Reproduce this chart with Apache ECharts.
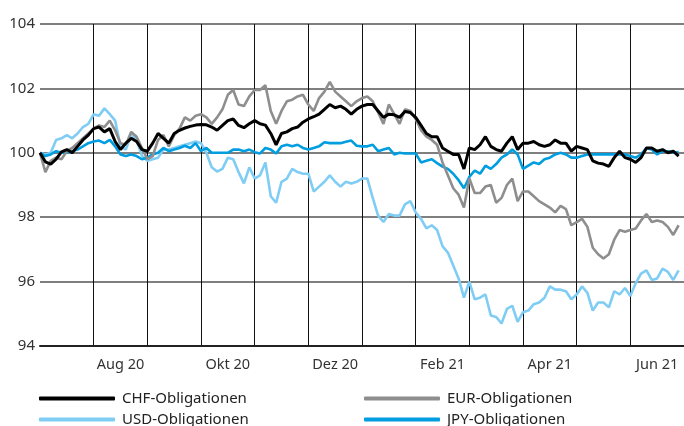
<!DOCTYPE html>
<html lang="de">
<head>
    <meta charset="UTF-8">
    <title>Obligationen</title>
    <script type="text/javascript" src="https://cdn.jsdelivr.net/npm/echarts@6/dist/echarts.min.js"></script>
    <style type="text/css">
        html, body { margin: 0; padding: 0; background: #fff; }
        #chart { width: 684px; height: 426px; }
    </style>
</head>
<body>
<div id="chart"></div>
<script type="text/javascript">
    // Monate (Juli 2020 bis Juni 2021), beschriftet wird jeder zweite
    var months = ['Jul 20', 'Aug 20', 'Sep 20', 'Okt 20', 'Nov 20', 'Dez 20',
                  'Jan 21', 'Feb 21', 'Mär 21', 'Apr 21', 'Mai 21', 'Jun 21'];
    var yTicks = [94, 96, 98, 100, 102, 104];
    // Werte alle 1/10 Monat, indexiert auf 100
    var pointsPerMonth = 10;

    var chf = [100.0, 99.72, 99.65, 99.8, 100.03, 100.1, 100.0, 100.2, 100.4, 100.55,
        100.75, 100.8, 100.65, 100.75, 100.35, 100.1, 100.3, 100.45, 100.35, 100.1,
        100.05, 100.3, 100.6, 100.45, 100.3, 100.6, 100.7, 100.77, 100.82, 100.86,
        100.88, 100.87, 100.8, 100.7, 100.85, 101.0, 101.05, 100.85, 100.78, 100.9,
        101.0, 100.9, 100.86, 100.6, 100.25, 100.6, 100.65, 100.75, 100.8, 100.95,
        101.05, 101.12, 101.2, 101.35, 101.5, 101.4, 101.45, 101.35, 101.2, 101.35,
        101.45, 101.5, 101.5, 101.3, 101.1, 101.2, 101.18, 101.1, 101.28, 101.25,
        101.1, 100.85, 100.6, 100.5, 100.5, 100.15, 100.05, 99.95, 99.95, 99.5,
        100.15, 100.1, 100.25, 100.5, 100.2, 100.1, 100.05, 100.3, 100.5, 100.1,
        100.3, 100.3, 100.35, 100.25, 100.2, 100.25, 100.4, 100.3, 100.3, 100.05,
        100.2, 100.15, 100.1, 99.75, 99.68, 99.65, 99.58, 99.85, 100.05, 99.85,
        99.8, 99.7, 99.85, 100.15, 100.15, 100.05, 100.1, 100.0, 100.05, 99.9];

    var eur = [100.0, 99.4, 99.75, 99.85, 99.8, 100.05, 100.15, 100.3, 100.45, 100.6,
        100.75, 100.85, 100.8, 101.0, 100.7, 100.3, 100.25, 100.65, 100.5, 100.15,
        99.8, 99.9, 100.4, 100.55, 100.2, 100.55, 100.75, 101.1, 101.0, 101.15,
        101.2, 101.1, 100.9, 101.1, 101.35, 101.8, 101.95, 101.5, 101.45, 101.75,
        101.95, 101.95, 102.1, 101.3, 100.9, 101.3, 101.6, 101.65, 101.75, 101.8,
        101.5, 101.3, 101.7, 101.9, 102.2, 101.9, 101.75, 101.6, 101.45, 101.6,
        101.7, 101.75, 101.6, 101.25, 100.9, 101.5, 101.2, 100.9, 101.35, 101.3,
        101.05, 100.7, 100.5, 100.4, 100.25, 99.7, 99.3, 98.9, 98.7, 98.3,
        99.2, 98.75, 98.75, 98.95, 99.0, 98.45, 98.6, 99.0, 99.2, 98.5,
        98.8, 98.8, 98.65, 98.5, 98.4, 98.3, 98.15, 98.35, 98.25, 97.75,
        97.85, 97.95, 97.7, 97.05, 96.85, 96.72, 96.85, 97.3, 97.6, 97.55,
        97.6, 97.65, 97.9, 98.1, 97.85, 97.9, 97.85, 97.7, 97.45, 97.75];

    var usd = [100.0, 99.95, 100.0, 100.4, 100.45, 100.55, 100.45, 100.6, 100.8, 100.9,
        101.2, 101.15, 101.38, 101.2, 101.0, 100.2, 100.1, 100.6, 100.4, 99.9,
        99.75, 99.8, 99.85, 100.1, 100.1, 100.15, 100.2, 100.25, 100.3, 100.35,
        100.3, 100.0, 99.55, 99.42, 99.5, 99.85, 99.8, 99.4, 99.05, 99.55,
        99.2, 99.3, 99.7, 98.65, 98.45, 99.1, 99.2, 99.5, 99.4, 99.35,
        99.35, 98.8, 98.95, 99.1, 99.3, 99.1, 98.95, 99.1, 99.05, 99.1,
        99.2, 99.2, 98.6, 98.05, 97.85, 98.1, 98.05, 98.05, 98.4, 98.5,
        98.15, 97.95, 97.65, 97.75, 97.6, 97.1, 96.9, 96.5, 96.1, 95.5,
        96.0, 95.45, 95.5, 95.6, 94.95, 94.9, 94.7, 95.15, 95.25, 94.75,
        95.05, 95.1, 95.3, 95.35, 95.5, 95.85, 95.75, 95.75, 95.7, 95.45,
        95.6, 95.85, 95.65, 95.1, 95.35, 95.35, 95.2, 95.7, 95.6, 95.8,
        95.55, 95.95, 96.25, 96.35, 96.05, 96.1, 96.4, 96.3, 96.05, 96.35];

    var jpy = [100.0, 99.9, 99.95, 100.05, 100.0, 100.0, 100.05, 100.1, 100.2, 100.3,
        100.35, 100.38, 100.3, 100.4, 100.2, 99.95, 99.9, 99.95, 99.9, 99.8,
        99.85, 99.95, 100.0, 100.15, 100.05, 100.1, 100.15, 100.22, 100.15, 100.3,
        100.05, 100.15, 100.0, 100.0, 100.0, 100.0, 100.1, 100.1, 100.05, 100.1,
        100.02, 99.98, 100.15, 100.1, 99.98, 100.2, 100.25, 100.2, 100.25, 100.15,
        100.1, 100.15, 100.2, 100.33, 100.3, 100.3, 100.3, 100.34, 100.38, 100.22,
        100.2, 100.2, 100.25, 100.05, 100.1, 100.15, 99.95, 100.0, 99.98, 99.98,
        99.98, 99.7, 99.75, 99.8, 99.68, 99.57, 99.5, 99.35, 99.15, 98.9,
        99.25, 99.45, 99.35, 99.6, 99.5, 99.65, 99.85, 99.95, 100.1, 99.95,
        99.5, 99.6, 99.7, 99.65, 99.8, 99.85, 99.95, 100.0, 99.95, 99.85,
        99.85, 99.9, 99.95, 99.95, 99.95, 99.95, 99.95, 99.95, 99.95, 99.95,
        99.9, 99.85, 99.95, 100.15, 100.1, 99.95, 100.05, 100.05, 100.0, 100.02];

    function toPoints(values) {
        var out = [];
        for (var i = 0; i < values.length; i++) {
            out.push([i / pointsPerMonth, values[i]]);
        }
        return out;
    }

    var font = "'Noto Sans', sans-serif";
    var chart = echarts.init(document.getElementById('chart'), null, {renderer: 'canvas'});

    function lineSeries(name, values, color, width, z) {
        return {
            name: name,
            type: 'line',
            xAxisIndex: 1,
            data: toPoints(values),
            showSymbol: false,
            symbol: 'none',
            z: z,
            lineStyle: {color: color, width: width},
            itemStyle: {color: color},
            animation: false
        };
    }

    // ein Legendeneintrag pro Block, 2 Spalten x 2 Zeilen
    function legendItem(name, left, top) {
        return {
            left: left,
            top: top,
            itemWidth: 76,
            itemHeight: 4,
            icon: 'roundRect',
            selectedMode: false,
            padding: 0,
            textStyle: {fontFamily: font, fontSize: 15, color: '#222', padding: [0, 0, 0, 2]},
            data: [name]
        };
    }

    var options = {
        animation: false,
        grid: {left: 40, right: -6, top: 24, bottom: 80},
        legend: [
            legendItem('CHF-Obligationen', 39, 391),
            legendItem('EUR-Obligationen', 364, 391),
            legendItem('USD-Obligationen', 39, 412),
            legendItem('JPY-Obligationen', 364, 412)
        ],
        xAxis: [{
            type: 'category',
            data: months,
            boundaryGap: true,
            axisLine: {show: true, lineStyle: {color: '#222', width: 2}},
            axisTick: {show: false},
            axisLabel: {
                fontFamily: font, fontSize: 14.5, color: '#333', margin: 11,
                interval: function (i) { return i % 2 === 1; }
            },
            splitLine: {show: true, interval: 0, showMinLine: false,
                lineStyle: {color: '#111', width: 1}}
        }, {
            type: 'value',
            min: 0,
            max: months.length,
            show: false
        }],
        yAxis: {
            type: 'value',
            min: yTicks[0],
            max: yTicks[yTicks.length - 1],
            interval: 2,
            axisLine: {show: false},
            axisTick: {show: false},
            axisLabel: {fontFamily: font, fontSize: 15, color: '#333', margin: 5},
            splitLine: {show: true, lineStyle: {color: '#555', width: 1.5}}
        },
        series: [
            lineSeries('USD-Obligationen', usd, '#7fcdf4', 2.6, 2),
            lineSeries('JPY-Obligationen', jpy, '#009ee0', 2.6, 3),
            lineSeries('EUR-Obligationen', eur, '#8e8e8e', 2.6, 4),
            lineSeries('CHF-Obligationen', chf, '#000000', 3, 5)
        ]
    };
    chart.setOption(options);
</script>
</body>
</html>
